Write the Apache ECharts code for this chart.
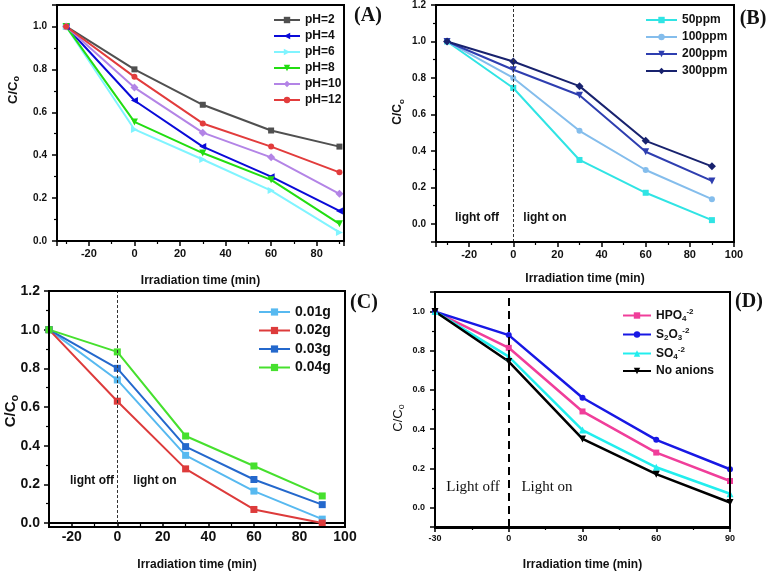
<!DOCTYPE html>
<html>
<head>
<meta charset="utf-8">
<script src="https://cdn.jsdelivr.net/npm/echarts@6/dist/echarts.min.js"></script>
<style>
html,body{margin:0;padding:0;background:#fff;}
#main{width:771px;height:572px;}
</style>
</head>
<body>
<div id="main"></div>
<script>
// irradiation time (min), same for all panels
var timeMin = [-30, 0, 30, 60, 90];

// (A) effect of pH
var phNames = ['pH=2', 'pH=4', 'pH=6', 'pH=8', 'pH=10', 'pH=12'];
var ph2  = [1.0, 0.80, 0.635, 0.515, 0.44];
var ph4  = [1.0, 0.655, 0.44, 0.30, 0.14];
var ph6  = [1.0, 0.52, 0.38, 0.235, 0.04];
var ph8  = [1.0, 0.555, 0.41, 0.285, 0.08];
var ph10 = [1.0, 0.715, 0.505, 0.39, 0.22];
var ph12 = [1.0, 0.765, 0.548, 0.44, 0.32];

// (B) initial concentration
var ppmNames = ['50ppm', '100ppm', '200ppm', '300ppm'];
var ppm50  = [1.0, 0.745, 0.35, 0.17, 0.02];
var ppm100 = [1.0, 0.80, 0.51, 0.295, 0.135];
var ppm200 = [1.0, 0.845, 0.705, 0.395, 0.235];
var ppm300 = [1.0, 0.89, 0.755, 0.455, 0.315];

// (C) catalyst dose
var doseNames = ['0.01g', '0.02g', '0.03g', '0.04g'];
var dose01 = [1.0, 0.74, 0.35, 0.165, 0.02];
var dose02 = [1.0, 0.63, 0.28, 0.07, 0.0];
var dose03 = [1.0, 0.80, 0.395, 0.225, 0.095];
var dose04 = [1.0, 0.885, 0.45, 0.295, 0.14];

// (D) anions
var anionNames = ['HPO4', 'S2O3', 'SO4', 'No anions'];
var hpo4 = [1.0, 0.815, 0.49, 0.28, 0.135];
var s2o3 = [1.0, 0.88, 0.56, 0.345, 0.195];
var so4  = [1.0, 0.77, 0.395, 0.205, 0.07];
var noAn = [1.0, 0.745, 0.35, 0.17, 0.025];

var FONT = 'Liberation Sans';
var SERIF = 'Liberation Serif';

// panel boxes [left, top, width, height]
var boxes = [[57, 5, 287, 236], [436, 5, 298, 237], [49, 291, 296, 236], [435, 292, 295, 236]];

function pairs(vals) {
	return timeMin.map(function (t, i) { return [t, vals[i]]; });
}

function line(name, vals, idx, color, symbol, rot, size, width) {
	return {
		type: 'line', name: name, xAxisIndex: idx, yAxisIndex: idx,
		data: pairs(vals), symbol: symbol, symbolRotate: rot || 0,
		symbolSize: size || 6,
		itemStyle: { color: color },
		lineStyle: { color: color, width: width || 2 }
	};
}

function oneDec(v) { return v.toFixed(1); }

function xAx(idx, min, max, opts) {
	var a = {
		type: 'value', gridIndex: idx, min: min, max: max,
		name: 'Irradiation time (min)', nameLocation: 'middle', nameGap: opts.nameGap,
		nameTextStyle: { fontFamily: FONT, fontWeight: 'bold', fontSize: opts.nameSize, color: '#111' },
		axisLine: { show: true, onZero: false, lineStyle: { color: '#000', width: 2 } },
		axisTick: { show: true, length: 5, lineStyle: { color: '#000', width: 1.5 } },
		minorTick: { show: true, splitNumber: 2, length: 3, lineStyle: { color: '#000', width: 1.2 } },
		splitLine: { show: false },
		axisLabel: {
			fontFamily: FONT, fontWeight: 'bold', fontSize: opts.labelSize, color: '#111',
			margin: 7, showMinLabel: opts.showMin, showMaxLabel: opts.showMax
		}
	};
	if (opts.interval) a.interval = opts.interval; else a.splitNumber = opts.split;
	return a;
}

function yAx(idx, min, max, opts) {
	var a = {
		type: 'value', gridIndex: idx, min: min, max: max,
		axisLine: { show: true, onZero: false, lineStyle: { color: '#000', width: 2 } },
		axisTick: { show: true, length: 5, lineStyle: { color: '#000', width: 1.5 } },
		minorTick: { show: true, splitNumber: 2, length: 3, lineStyle: { color: '#000', width: 1.2 } },
		splitLine: { show: false },
		axisLabel: {
			fontFamily: FONT, fontWeight: 'bold', fontSize: opts.labelSize, color: '#111',
			margin: opts.margin || 8, formatter: oneDec,
			showMinLabel: opts.showMin, showMaxLabel: opts.showMax
		}
	};
	if (opts.interval) a.interval = opts.interval; else a.splitNumber = opts.split;
	return a;
}

function boxGrid(b) {
	return { left: b[0], top: b[1], width: b[2], height: b[3], show: true, borderColor: '#000', borderWidth: 2 };
}

// closed plot frame on top of everything
function frame(b) {
	return {
		type: 'rect', z: 100,
		shape: { x: b[0], y: b[1], width: b[2], height: b[3] },
		style: { fill: 'none', stroke: '#000', lineWidth: 2 }
	};
}

function lightLine(style) {
	return { silent: true, symbol: 'none', label: { show: false }, lineStyle: style, data: [{ xAxis: 0 }] };
}

function yName(x, y, size, weight) {
	return {
		type: 'text', x: x, y: y, rotation: Math.PI / 2,
		style: {
			text: '{m|C/C}{s|o}', align: 'center', verticalAlign: 'middle',
			rich: {
				m: { fontFamily: FONT, fontWeight: weight, fontSize: size, fill: '#111', lineHeight: size + 4, verticalAlign: 'middle' },
				s: { fontFamily: FONT, fontWeight: weight, fontSize: Math.round(size * 0.7), fill: '#111', lineHeight: size + 4, verticalAlign: 'bottom' }
			}
		}
	};
}

function label(x, y, text, font, size, weight) {
	return {
		type: 'text', x: x, y: y,
		style: { text: text, fontFamily: font, fontSize: size, fontWeight: weight, fill: '#111', align: 'center', verticalAlign: 'middle' }
	};
}

var chart = echarts.init(document.getElementById('main'));

var seriesA = [
	line(phNames[0], ph2, 0, '#505050', 'rect'),
	line(phNames[1], ph4, 0, '#0a0ad8', 'triangle', 90, 7),
	line(phNames[2], ph6, 0, '#80f4ff', 'triangle', -90, 7),
	line(phNames[3], ph8, 0, '#22dd11', 'triangle', 180, 7),
	line(phNames[4], ph10, 0, '#b384e6', 'diamond', 0, 8),
	line(phNames[5], ph12, 0, '#e23c3c', 'circle')
];
var seriesB = [
	line(ppmNames[0], ppm50, 1, '#30e4e4', 'rect'),
	line(ppmNames[1], ppm100, 1, '#84bdec', 'circle'),
	line(ppmNames[2], ppm200, 1, '#2e3eb0', 'triangle', 180, 7),
	line(ppmNames[3], ppm300, 1, '#18226e', 'diamond', 0, 8)
];
seriesB[0].markLine = lightLine({ color: '#333', type: [3, 2], width: 1 });
var seriesC = [
	line(doseNames[0], dose01, 2, '#57b9f0', 'rect', 0, 7),
	line(doseNames[1], dose02, 2, '#dd3b3b', 'rect', 0, 7),
	line(doseNames[2], dose03, 2, '#2468cc', 'rect', 0, 7),
	line(doseNames[3], dose04, 2, '#46e02e', 'rect', 0, 7)
];
seriesC[0].markLine = lightLine({ color: '#333', type: [3, 2], width: 1 });
var seriesD = [
	line(anionNames[0], hpo4, 3, '#f03e9a', 'rect', 0, 6, 2.5),
	line(anionNames[1], s2o3, 3, '#1818e4', 'circle', 0, 6, 2.5),
	line(anionNames[2], so4, 3, '#22eeee', 'triangle', 0, 7, 2.5),
	line(anionNames[3], noAn, 3, '#000000', 'triangle', 180, 7, 2.5)
];
seriesD[0].markLine = lightLine({ color: '#000', type: [8, 5], width: 2 });

var anionLabel = {
	'HPO4': '{n|HPO}{b|4}{t|-2}',
	'S2O3': '{n|S}{b|2}{n|O}{b|3}{t|-2}',
	'SO4': '{n|SO}{b|4}{t|-2}',
	'No anions': '{n|No anions}'
};

var option = {
	animation: false,
	textStyle: { fontFamily: FONT },
	grid: boxes.map(boxGrid),
	xAxis: [
		xAx(0, -34, 92, { split: 6, nameGap: 34, nameSize: 12, labelSize: 11, showMin: false, showMax: false }),
		xAx(1, -35, 100, { split: 6, nameGap: 31, nameSize: 12, labelSize: 11, showMin: false, showMax: true }),
		xAx(2, -30, 100, { split: 6, nameGap: 36, nameSize: 12, labelSize: 14, showMin: false, showMax: true }),
		xAx(3, -30, 90, { interval: 30, nameGap: 32, nameSize: 12, labelSize: 9, showMin: true, showMax: true })
	],
	yAxis: [
		yAx(0, 0, 1.1, { interval: 0.2, labelSize: 10, margin: 10, showMin: true, showMax: false }),
		yAx(1, -0.1, 1.2, { split: 6, labelSize: 10, margin: 10, showMin: false, showMax: true }),
		yAx(2, 0, 1.2, { interval: 0.2, labelSize: 14, margin: 9, showMin: true, showMax: true }),
		yAx(3, -0.1, 1.1, { split: 6, labelSize: 9, margin: 10, showMin: false, showMax: false })
	],
	legend: [
		{
			data: phNames, orient: 'vertical', left: 268, top: 9, itemWidth: 26, itemHeight: 8, itemGap: 4,
			textStyle: { fontFamily: FONT, fontWeight: 'bold', fontSize: 12, lineHeight: 12, color: '#111' }
		},
		{
			data: ppmNames, orient: 'vertical', left: 640, top: 9, itemWidth: 31, itemHeight: 8, itemGap: 5,
			textStyle: { fontFamily: FONT, fontWeight: 'bold', fontSize: 12, lineHeight: 12, color: '#111' }
		},
		{
			data: doseNames, orient: 'vertical', left: 253, top: 300, itemWidth: 31, itemHeight: 9, itemGap: 4.5,
			textStyle: { fontFamily: FONT, fontWeight: 'bold', fontSize: 14, lineHeight: 14, color: '#111' }
		},
		{
			data: anionNames, orient: 'vertical', left: 617, top: 303, itemWidth: 28, itemHeight: 8, itemGap: 4,
			formatter: function (n) { return anionLabel[n]; },
			textStyle: {
				color: '#111',
				rich: {
					n: { fontFamily: FONT, fontWeight: 'bold', fontSize: 12, lineHeight: 15, verticalAlign: 'middle' },
					b: { fontFamily: FONT, fontWeight: 'bold', fontSize: 8, lineHeight: 15, verticalAlign: 'bottom' },
					t: { fontFamily: FONT, fontWeight: 'bold', fontSize: 8, lineHeight: 15, verticalAlign: 'top' }
				}
			}
		}
	],
	graphic: boxes.map(frame).concat([
		yName(13, 90, 13, 'bold'),
		yName(398, 112, 12, 'bold'),
		yName(11, 411, 15, 'bold'),
		yName(398, 418, 13, 'normal'),
		label(368, 16, '(A)', SERIF, 20, 'bold'),
		label(753, 19, '(B)', SERIF, 20, 'bold'),
		label(364, 303, '(C)', SERIF, 20, 'bold'),
		label(749, 302, '(D)', SERIF, 20, 'bold'),
		label(477, 218, 'light off', FONT, 12, 'bold'),
		label(545, 218, 'light on', FONT, 12, 'bold'),
		label(92, 481, 'light off', FONT, 12, 'bold'),
		label(155, 481, 'light on', FONT, 12, 'bold'),
		label(473, 487, 'Light off', SERIF, 15, 'normal'),
		label(547, 487, 'Light on', SERIF, 15, 'normal')
	]),
	series: [].concat(seriesA, seriesB, seriesC, seriesD)
};

chart.setOption(option);
</script>
</body>
</html>
